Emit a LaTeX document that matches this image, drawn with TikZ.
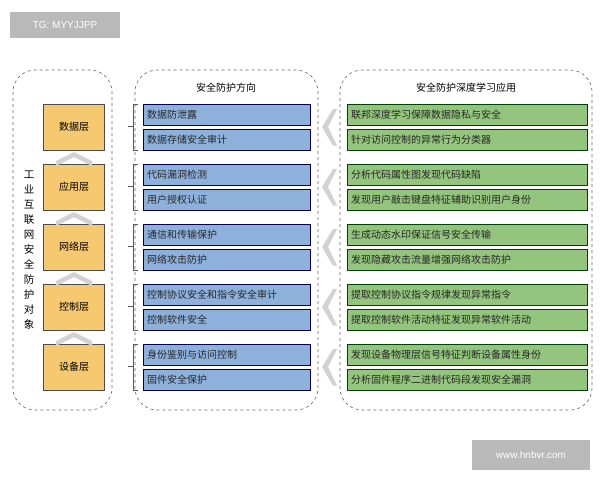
\documentclass[tikz,border=0pt]{standalone}
\usepackage{fontspec}
\setmainfont{Liberation Sans}
\newfontfamily\cjk{Noto Sans CJK SC}
\definecolor{org}{HTML}{F6C870}
\definecolor{blu}{HTML}{8EB1DC}
\definecolor{grn}{HTML}{94C57E}
\begin{document}
\begin{tikzpicture}[x=1pt,y=-1pt,
  dbox/.style={draw=gray!80!black,dashed,rounded corners=22pt,line width=0.6pt},
  layer/.style={draw=gray!60!black,fill=org,minimum width=61pt,minimum height=46pt,font=\cjk\fontsize{10}{12}\selectfont,inner sep=0pt},
  bluebox/.style={draw=blue!30!black,fill=blu,minimum width=167pt,minimum height=21pt,anchor=west,font=\cjk\fontsize{10}{11}\selectfont,text width=159pt,inner sep=4pt,text=black!85},
  greenbox/.style={draw=green!25!black,fill=grn,minimum width=240pt,minimum height=21pt,anchor=west,font=\cjk\fontsize{10}{11}\selectfont,text width=232pt,inner sep=4pt,text=black!85},
  chev/.style={fill=gray!35,draw=none},
  ttl/.style={font=\cjk\fontsize{10}{12}\selectfont}]
\useasboundingbox (0,0) rectangle (600,480);
\fill[white] (0,0) rectangle (600,480);
\node[fill=gray!55,text=white,minimum width=110pt,minimum height=26pt,font=\fontsize{10}{12}\selectfont,inner sep=0pt] (tg) at (65,25) {TG: MYYJJPP};
\node[fill=gray!55,text=white,minimum width=118pt,minimum height=30pt,font=\fontsize{10}{12}\selectfont,inner sep=0pt] (wm) at (531,455) {www.hnbvr.com};
\draw[dbox] (13,70) rectangle (112,410);
\draw[dbox] (135,70) rectangle (318,410);
\draw[dbox] (340,70) rectangle (592,410);
\node[ttl] (t1) at (226,88) {安全防护方向};
\node[ttl] (t2) at (466,88) {安全防护深度学习应用};
\node[align=center,inner sep=0pt,font=\cjk\fontsize{10.5}{15}\selectfont] (obj) at (29,250) {工\\业\\互\\联\\网\\安\\全\\防\\护\\对\\象};
\foreach \n/\t [count=\i from 0] in {l1/数据层,l2/应用层,l3/网络层,l4/控制层,l5/设备层}{
  \node[layer] (\n) at (74,127+60*\i) {\t};
}
\foreach \i in {0,...,3}{
  \pgfmathsetmacro\yy{157+60*\i}
  \fill[chev] (56,\yy+4) -- (74,\yy-5) -- (92,\yy+4) -- (92,\yy+9) -- (74,\yy) -- (56,\yy+9) -- cycle;
}
\foreach \a/\b/\c/\d [count=\i from 0] in {
 数据防泄露/数据存储安全审计/联邦深度学习保障数据隐私与安全/针对访问控制的异常行为分类器,
 代码漏洞检测/用户授权认证/分析代码属性图发现代码缺陷/发现用户敲击键盘特征辅助识别用户身份,
 通信和传输保护/网络攻击防护/生成动态水印保证信号安全传输/发现隐藏攻击流量增强网络攻击防护,
 控制协议安全和指令安全审计/控制软件安全/提取控制协议指令规律发现异常指令/提取控制软件活动特征发现异常软件活动,
 身份鉴别与访问控制/固件安全保护/发现设备物理层信号特征判断设备属性身份/分析固件程序二进制代码段发现安全漏洞}{
  \pgfmathsetmacro\ya{115+60*\i}
  \pgfmathsetmacro\yb{139.5+60*\i}
  \node[bluebox] (b\i a) at (143,\ya) {\a};
  \node[bluebox] (b\i b) at (143,\yb) {\b};
  \node[greenbox] (g\i a) at (347,\ya) {\c};
  \node[greenbox] (g\i b) at (347,\yb) {\d};
  \draw[gray!70!black,line width=0.5pt] ([xshift=-5pt]b\i a.north west) -- ++(-5,0) -- ([xshift=-10pt]b\i b.south west) -- ++(5,0);
  \draw[gray!70!black,line width=0.5pt] ([xshift=-10pt,yshift=-1pt]b\i a.south west) -- ++(-5,0);
  \fill[chev] (333,\ya-6) -- (322,\ya+12) -- (333,\yb+6) -- (337,\yb+6) -- (328,\ya+12) -- (337,\ya-6) -- cycle;
}
\end{tikzpicture}
\end{document}
